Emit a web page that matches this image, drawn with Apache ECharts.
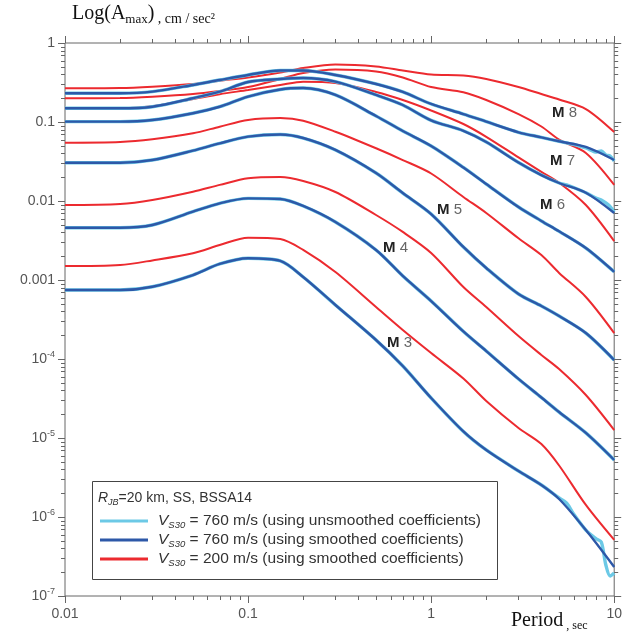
<!DOCTYPE html>
<html><head><meta charset="utf-8">
<script src="https://cdn.jsdelivr.net/npm/echarts@6/dist/echarts.min.js"></script>
<style>html,body{margin:0;padding:0;background:#fff}#c{width:625px;height:635px}</style>
</head><body><div id="c"></div>
<script>
// ---- data (period in s, amplitude) ----
const periods = [0.01, 0.02, 0.03, 0.05, 0.07, 0.1, 0.15, 0.2, 0.3, 0.5, 0.7, 1, 1.5, 2, 3, 4, 5, 7, 10];

// Vs30 = 200 m/s (smoothed)
const red200_M3 = [0.00150, 0.00155, 0.00177, 0.00218, 0.00277, 0.00343, 0.00330, 0.00240, 0.00126, 0.000455, 0.000233, 0.000119, 0.0000566, 0.0000294, 0.0000134, 0.00000839, 0.00000449, 0.00000142, 0.000000512];
const red200_M4 = [0.00889, 0.00916, 0.0103, 0.0131, 0.0160, 0.0194, 0.0201, 0.0179, 0.0130, 0.00665, 0.00406, 0.00220, 0.000815, 0.000455, 0.000195, 0.0001125, 0.0000746, 0.0000350, 0.0000126];
const red200_M5 = [0.0547, 0.0558, 0.0604, 0.0719, 0.0873, 0.106, 0.112, 0.104, 0.0753, 0.0465, 0.0330, 0.0223, 0.01125, 0.00705, 0.00337, 0.00207, 0.00123, 0.000610, 0.000213];
const red200_M6 = [0.149, 0.149, 0.158, 0.195, 0.225, 0.254, 0.294, 0.324, 0.312, 0.240, 0.190, 0.140, 0.0944, 0.0650, 0.0356, 0.0234, 0.0170, 0.00889, 0.0031];
const red200_M7 = [0.200, 0.201, 0.209, 0.226, 0.247, 0.277, 0.350, 0.417, 0.462, 0.436, 0.366, 0.277, 0.238, 0.190, 0.126, 0.0877, 0.0600, 0.0406, 0.0160];
const red200_M8 = [0.267, 0.269, 0.280, 0.303, 0.333, 0.366, 0.424, 0.483, 0.535, 0.505, 0.449, 0.399, 0.388, 0.350, 0.277, 0.226, 0.193, 0.146, 0.0746];

// Vs30 = 760 m/s (smoothed)
const blue760_M3 = [0.000746, 0.000746, 0.000822, 0.001156, 0.001596, 0.001884, 0.001742, 0.001091, 0.000483, 0.000174, 0.0000815, 0.0000321, 0.0000121, 0.00000705, 0.00000382, 0.00000254, 0.00000169, 0.000000684, 0.000000233];
const blue760_M4 = [0.00459, 0.00459, 0.00497, 0.00733, 0.00935, 0.0108, 0.0106, 0.00865, 0.00542, 0.00240, 0.001125, 0.000542, 0.000223, 0.000126, 0.0000559, 0.0000326, 0.0000213, 0.0000116, 0.00000527];
const blue760_M5 = [0.0305, 0.0305, 0.0330, 0.0434, 0.0537, 0.0652, 0.0695, 0.0627, 0.0443, 0.0226, 0.0126, 0.00684, 0.00262, 0.00142, 0.000665, 0.000469, 0.000350, 0.000213, 0.0000970];
const blue760_M6 = [0.101, 0.101, 0.106, 0.129, 0.156, 0.210, 0.258, 0.269, 0.220, 0.119, 0.0769, 0.0497, 0.0266, 0.0164, 0.00839, 0.00559, 0.00413, 0.00254, 0.00127];
const blue760_M7 = [0.149, 0.149, 0.156, 0.200, 0.242, 0.321, 0.350, 0.361, 0.324, 0.220, 0.164, 0.105, 0.0774, 0.0558, 0.0307, 0.0213, 0.0169, 0.0127, 0.00705];
const blue760_M8 = [0.231, 0.231, 0.242, 0.294, 0.340, 0.394, 0.449, 0.449, 0.394, 0.303, 0.240, 0.169, 0.126, 0.101, 0.0741, 0.0640, 0.0570, 0.0483, 0.0330];

// Vs30 = 760 m/s (unsmoothed) – long-period part where it departs from smoothed
const periodsLong = [4, 5, 5.5, 6, 7, 8, 8.5, 9, 9.5, 10];
const unsm760_M3_long = [0.00000254, 0.00000174, 0.00000150, 0.00000109, 0.000000684, 0.000000527, 0.000000483, 0.000000247, 0.000000179, 0.000000195];
const unsm760_M7_long = [0.0213, 0.0169, 0.0160, 0.0148, 0.0127, 0.0108, 0.0103, 0.00944, 0.0085, 0.00726];
const unsm760_M8_long = [0.0640, 0.0570, 0.0545, 0.0520, 0.0470, 0.0417, 0.0430, 0.0382, 0.0370, 0.0321];

const magnitudes = ['3', '4', '5', '6', '7', '8'];
const yTickValues = [1e-7, 1e-6, 1e-5, 1e-4, 1e-3, 1e-2, 1e-1, 1];
const yTickLabels = ['10^-7', '10^-6', '10^-5', '10^-4', '0.001', '0.01', '0.1', '1'];
const xTickValues = [0.01, 0.1, 1, 10];
const xTickLabels = ['0.01', '0.1', '1', '10'];

const C_RED = '#ec2a2f', C_BLUE = '#2d58a8', C_LIGHT = '#6cc9e6';
const SANS = 'Liberation Sans, Arial, sans-serif';
const SERIF = 'Liberation Serif, Times New Roman, serif';

const redSets = [red200_M3, red200_M4, red200_M5, red200_M6, red200_M7, red200_M8];
const blueSets = [blue760_M3, blue760_M4, blue760_M5, blue760_M6, blue760_M7, blue760_M8];
const unsmLong = {0: unsm760_M3_long, 4: unsm760_M7_long, 5: unsm760_M8_long};

const pairs = (xs, ys) => xs.map((x, i) => [x, ys[i]]);

const series = [];
redSets.forEach((d, i) => series.push({
  name: 's200', type: 'line', data: pairs(periods, d), showSymbol: false, smooth: 0.3,
  lineStyle: {color: C_RED, width: 2}, itemStyle: {color: C_RED}, z: 2
}));
blueSets.forEach((d, i) => {
  let data;
  if (unsmLong[i]) {
    data = pairs(periods, d).filter(p => p[0] < periodsLong[0]).concat(pairs(periodsLong, unsmLong[i]));
  } else {
    data = pairs(periods, d);
  }
  series.push({
    name: 'u760', type: 'line', data, showSymbol: false, smooth: 0.3,
    lineStyle: {color: C_LIGHT, width: 3.4}, itemStyle: {color: C_LIGHT}, z: 3
  });
});
blueSets.forEach((d, i) => series.push({
  name: 's760', type: 'line', data: pairs(periods, d), showSymbol: false, smooth: 0.3,
  lineStyle: {color: C_BLUE, width: 2.4}, itemStyle: {color: C_BLUE}, z: 4
}));

// tick marks (major + minor) on all four sides, positioned through the axes' own scales
const tickData = [];
for (let e = -7; e <= 0; e++) {
  tickData.push([0.01, Math.pow(10, e), 0, 7]);
  if (e < 0) for (let m = 2; m <= 9; m++) tickData.push([0.01, m * Math.pow(10, e), 0, 4]);
}
for (let e = -2; e <= 1; e++) {
  tickData.push([Math.pow(10, e), 1e-7, 1, 7]);
  if (e < 1) for (let m = 2; m <= 9; m++) tickData.push([m * Math.pow(10, e), 1e-7, 1, 4]);
}
series.push({
  type: 'custom', silent: true, clip: false, z: 10,
  data: tickData, encode: {x: 0, y: 1},
  renderItem: (params, api) => {
    const kind = api.value(2), len = api.value(3);
    const st = {stroke: '#666', lineWidth: 1};
    if (kind === 0) {
      const v = api.value(1);
      const a = api.coord([0.01, v]), b = api.coord([10, v]);
      const ya = Math.round(a[1]) + 0.5;
      return {type: 'group', children: [
        {type: 'line', shape: {x1: a[0] - len, y1: ya, x2: a[0], y2: ya}, style: st},
        {type: 'line', shape: {x1: b[0], y1: ya, x2: b[0] + len, y2: ya}, style: st}
      ]};
    } else {
      const v = api.value(0);
      const a = api.coord([v, 1e-7]), b = api.coord([v, 1]);
      const xa = Math.round(a[0]) + 0.5;
      return {type: 'group', children: [
        {type: 'line', shape: {x1: xa, y1: a[1], x2: xa, y2: a[1] + len}, style: st},
        {type: 'line', shape: {x1: xa, y1: b[1] - len, x2: xa, y2: b[1]}, style: st}
      ]};
    }
  }
});

const idxOf = (vals, v) => {
  const e = Math.round(Math.log10(v));
  return vals.findIndex(t => Math.round(Math.log10(t)) === e);
};

const legendText = {
  u760: '{i|V}{s|S30}{t| = 760 m/s (using unsmoothed coefficients)}',
  s760: '{i|V}{s|S30}{t| = 760 m/s (using smoothed coefficients)}',
  s200: '{i|V}{s|S30}{t| = 200 m/s (using smoothed coefficients)}'
};

const mLabelPos = [[387, 335], [383, 240], [437, 202], [540, 197], [550, 153], [552, 105]];

const chart = echarts.init(document.getElementById('c'), null, {renderer: 'canvas'});
chart.setOption({
  animation: false,
  backgroundColor: '#fff',
  grid: {left: 65, right: 9, top: 43, bottom: 39, show: true, borderColor: '#666', borderWidth: 1, backgroundColor: 'transparent'},
  xAxis: {
    type: 'log', logBase: 10, min: 0.01, max: 10, splitNumber: 10,
    axisLine: {show: false}, axisTick: {show: false}, splitLine: {show: false},
    axisLabel: {
      margin: 11, color: '#555', fontSize: 14, fontFamily: SANS, showMinLabel: true, showMaxLabel: true,
      formatter: v => xTickLabels[idxOf(xTickValues, v)]
    }
  },
  yAxis: {
    type: 'log', logBase: 10, min: 1e-7, max: 1, splitNumber: 10,
    axisLine: {show: false}, axisTick: {show: false}, splitLine: {show: false},
    axisLabel: {
      margin: 10, color: '#555', showMinLabel: true, showMaxLabel: true,
      formatter: v => {
        const s = yTickLabels[idxOf(yTickValues, v)];
        if (s.indexOf('^') >= 0) { const p = s.split('^'); return '{b|' + p[0] + '}{s|' + p[1] + '}'; }
        return '{b|' + s + '}';
      },
      rich: {
        b: {fontSize: 14, fontFamily: SANS, color: '#555', lineHeight: 18},
        s: {fontSize: 9, fontFamily: SANS, color: '#555', lineHeight: 10, verticalAlign: 'top'}
      }
    }
  },
  legend: {
    data: ['u760', 's760', 's200'], orient: 'vertical', left: 100, top: 513, padding: 0, z: 60,
    itemGap: 2, itemWidth: 48, itemHeight: 3, icon: 'rect', selectedMode: false,
    formatter: n => legendText[n],
    textStyle: {
      padding: [0, 0, 0, 5],
      rich: {
        i: {fontSize: 15.5, fontStyle: 'italic', fontFamily: SANS, color: '#333', lineHeight: 18},
        s: {fontSize: 9.5, fontStyle: 'italic', fontFamily: SANS, color: '#333', lineHeight: 10, verticalAlign: 'bottom'},
        t: {fontSize: 15.5, fontFamily: SANS, color: '#333', lineHeight: 18}
      }
    }
  },
  graphic: [
    {type: 'rect', left: 92, top: 481, z: 1, shape: {width: 405, height: 98},
     style: {fill: '#fff', stroke: '#444', lineWidth: 1}},
    {type: 'text', left: 98, top: 491, z: 51, style: {
      text: '{i|R}{s|JB}{t|=20 km, SS, BSSA14}',
      rich: {
        i: {fontSize: 14, fontStyle: 'italic', fontFamily: SANS, fill: '#333', lineHeight: 18},
        s: {fontSize: 9, fontStyle: 'italic', fontFamily: SANS, fill: '#333', lineHeight: 10, verticalAlign: 'bottom'},
        t: {fontSize: 14, fontFamily: SANS, fill: '#333', lineHeight: 18}
      }}},
    {type: 'text', left: 72, top: 4, z: 51, style: {
      text: '{a|Log(A}{sub|max}{a|)}{b| , cm / sec²}',
      rich: {
        a: {fontSize: 20, fontFamily: SERIF, fill: '#111', lineHeight: 24},
        sub: {fontSize: 13, fontFamily: SERIF, fill: '#111', lineHeight: 14, verticalAlign: 'bottom'},
        b: {fontSize: 14, fontFamily: SERIF, fill: '#111', lineHeight: 20, verticalAlign: 'bottom'}
      }}},
    {type: 'text', left: 511, top: 611, z: 51, style: {
      text: '{a|Period}{b| , sec}',
      rich: {
        a: {fontSize: 20, fontFamily: SERIF, fill: '#111', lineHeight: 22},
        b: {fontSize: 12, fontFamily: SERIF, fill: '#111', lineHeight: 16, verticalAlign: 'bottom'}
      }}}
  ].concat(magnitudes.map((m, i) => ({
    type: 'text', left: mLabelPos[i][0], top: mLabelPos[i][1], z: 51, style: {
      text: '{m|M}{n| ' + m + '}',
      rich: {
        m: {fontSize: 15, fontWeight: 'bold', fontFamily: SANS, fill: '#222'},
        n: {fontSize: 15, fontFamily: SANS, fill: '#666'}
      }}
  }))),
  series
});
</script>
</body></html>
